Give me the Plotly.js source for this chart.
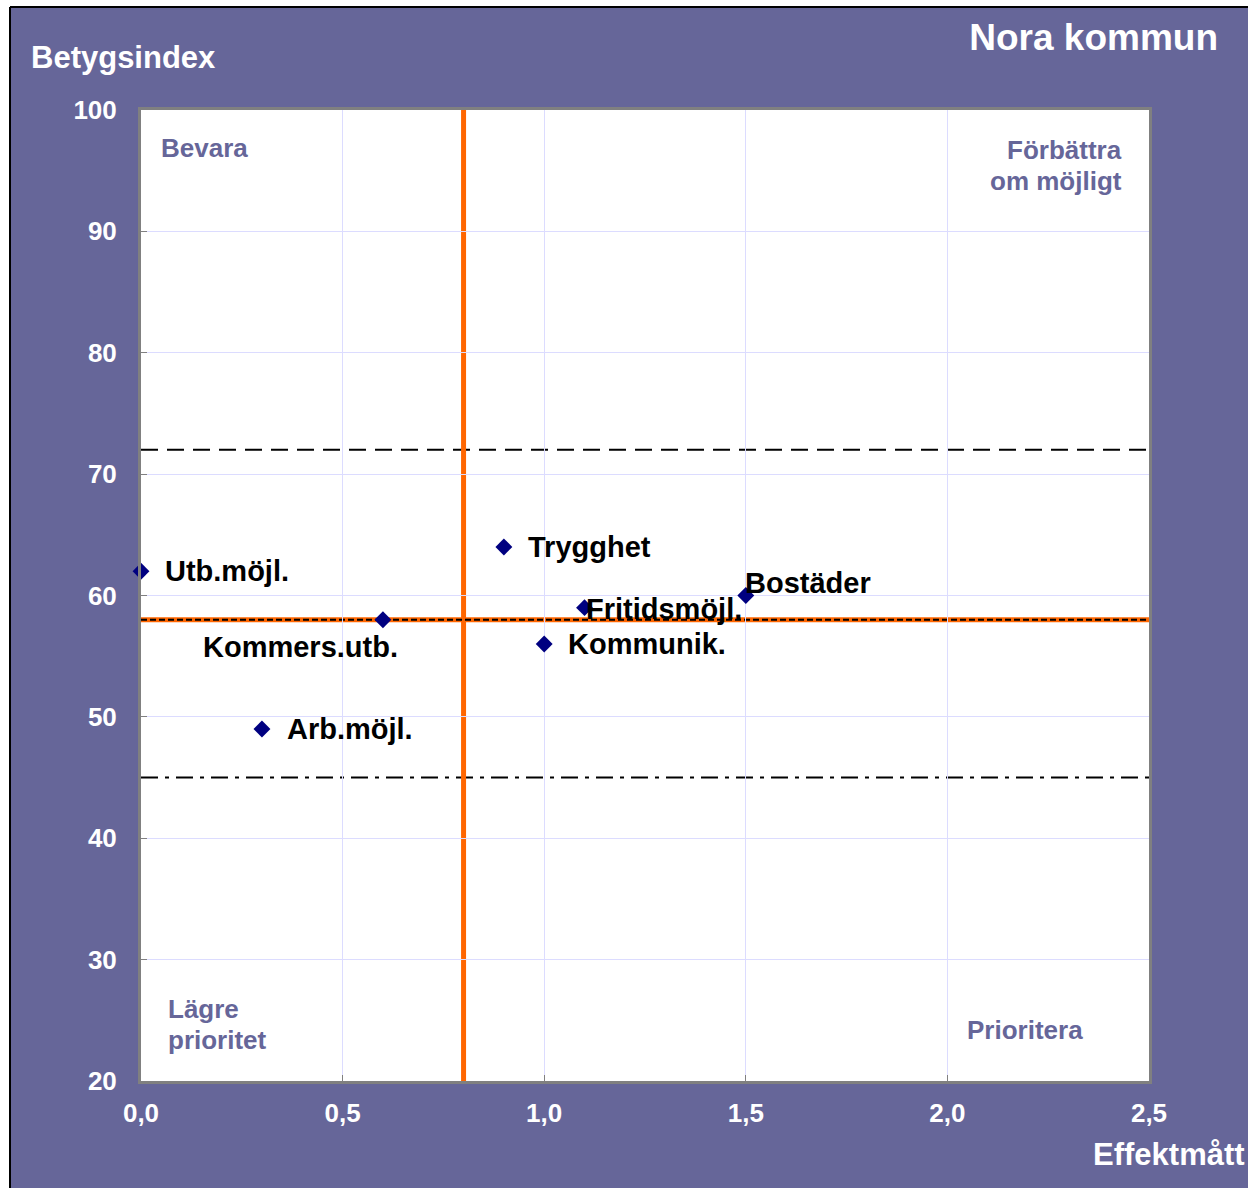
<!DOCTYPE html>
<html>
<head>
<meta charset="utf-8">
<script src="https://cdn.plot.ly/plotly-3.0.1.min.js"></script>
<style>html,body{margin:0;padding:0;background:#fff;}#chart{width:1248px;height:1188px;}</style>
</head>
<body>
<div id="chart"></div>
<script>
// ---- data ----
const categories = ["Utb.möjl.", "Kommers.utb.", "Arb.möjl.", "Trygghet", "Fritidsmöjl.", "Kommunik.", "Bostäder"];
const effektmatt = [0.0, 0.6, 0.3, 0.9, 1.1, 1.0, 1.5];
const betygsindex = [62, 58, 49, 64, 59, 56, 60];
const meanEffekt = 0.8;
const meanBetyg = 58;
const upperLimit = 72;
const lowerLimit = 45;
const xTicks = [0, 0.5, 1.0, 1.5, 2.0, 2.5];
const yTicks = [20, 30, 40, 50, 60, 70, 80, 90, 100];
const quadrantLabels = ["Bevara", "Förbättra<br>om möjligt", "Lägre<br>prioritet", "Prioritera"];

// ---- styling / layout ----
const W = 1248, H = 1188;
const M = {l: 141, r: 99, t: 110, b: 107};
const PW = W - M.l - M.r, PH = H - M.t - M.b;
const px = v => (v - M.l) / PW;          // pixel x -> paper x
const py = v => (H - M.b - v) / PH;      // pixel y -> paper y
const BG = '#666699';
const FONT = 'Liberation Sans, Arial, sans-serif';

// label offsets (pixels) per category
const labelStyle = [
  {xanchor: 'left', xshift: 22, yshift: 0},
  {xanchor: 'right', xshift: 17, yshift: -27},
  {xanchor: 'left', xshift: 23, yshift: 0},
  {xanchor: 'left', xshift: 22, yshift: 0},
  {xanchor: 'left', xshift: -1, yshift: -1},
  {xanchor: 'left', xshift: 22, yshift: 0},
  {xanchor: 'left', xshift: -3, yshift: 13}
];

const trace = {
  type: 'scatter', mode: 'markers',
  x: effektmatt, y: betygsindex,
  marker: {symbol: 'diamond', size: 13, color: '#000080'},
  cliponaxis: false, hoverinfo: 'skip'
};

const annotations = categories.map((c, i) => ({
  x: effektmatt[i], y: betygsindex[i], xref: 'x', yref: 'y',
  text: c, showarrow: false, xanchor: labelStyle[i].xanchor, yanchor: 'middle',
  xshift: labelStyle[i].xshift, yshift: labelStyle[i].yshift,
  font: {family: FONT, size: 29, color: '#000000', weight: 'bold'}
}));

const qFont = {family: FONT, size: 26, color: BG, weight: 'bold'};
const qPos = [
  {x: 159, y: 148, xanchor: 'left'},
  {x: 1124, y: 165.5, xanchor: 'right'},
  {x: 166, y: 1024.5, xanchor: 'left'},
  {x: 965, y: 1030, xanchor: 'left'}
];
const qLineGap = 31;
quadrantLabels.forEach((t, i) => {
  const lines = t.split('<br>');
  lines.forEach((ln, j) => {
    const yc = qPos[i].y + (j - (lines.length - 1) / 2) * qLineGap;
    annotations.push({
      xref: 'paper', yref: 'paper', x: px(qPos[i].x), y: py(yc),
      xanchor: qPos[i].xanchor, yanchor: 'middle',
      text: ln, showarrow: false, font: qFont
    });
  });
});

annotations.push({
  xref: 'paper', yref: 'paper', x: px(29), y: py(57), xanchor: 'left', yanchor: 'middle',
  text: 'Betygsindex', showarrow: false,
  font: {family: FONT, size: 31, color: '#ffffff', weight: 'bold'}
});
annotations.push({
  xref: 'paper', yref: 'paper', x: px(1247), y: py(1154), xanchor: 'right', yanchor: 'middle',
  text: 'Effektmått', showarrow: false,
  font: {family: FONT, size: 31, color: '#ffffff', weight: 'bold'}
});

const xr = [xTicks[0], xTicks[xTicks.length - 1]];
const shapes = [
  // frame white margin + black outline
  {type: 'rect', xref: 'paper', yref: 'paper', x0: px(-5), x1: px(10), y0: py(H + 5), y1: py(-5), fillcolor: '#ffffff', line: {width: 0}},
  {type: 'rect', xref: 'paper', yref: 'paper', x0: px(-5), x1: px(W + 5), y0: py(7), y1: py(-5), fillcolor: '#ffffff', line: {width: 0}},
  {type: 'line', xref: 'paper', yref: 'paper', x0: px(10), x1: px(10), y0: py(7), y1: py(H + 2), line: {color: '#000000', width: 2}},
  {type: 'line', xref: 'paper', yref: 'paper', x0: px(10), x1: px(W + 2), y0: py(7), y1: py(7), line: {color: '#000000', width: 2}},
  // reference lines
  {type: 'line', layer: 'below', xref: 'x', yref: 'y', x0: xr[0], x1: xr[1], y0: upperLimit, y1: upperLimit, line: {color: '#000000', width: 2, dash: '17px,9px'}},
  {type: 'line', layer: 'below', xref: 'x', yref: 'y', x0: xr[0], x1: xr[1], y0: lowerLimit, y1: lowerLimit, line: {color: '#000000', width: 2, dash: '17px,7px,4px,7px'}},
  {type: 'line', layer: 'below', xref: 'x', yref: 'y', x0: meanEffekt, x1: meanEffekt, y0: yTicks[0], y1: yTicks[yTicks.length - 1], line: {color: '#FF6600', width: 5}},
  {type: 'line', layer: 'below', xref: 'x', yref: 'y', x0: xr[0], x1: xr[1], y0: meanBetyg, y1: meanBetyg, line: {color: '#FF6600', width: 5}},
  {type: 'line', layer: 'below', xref: 'x', yref: 'y', x0: xr[0], x1: xr[1], y0: meanBetyg, y1: meanBetyg, line: {color: '#000000', width: 2, dash: '6px,3px'}}
];

const layout = {
  width: W, height: H,
  margin: M,
  paper_bgcolor: BG, plot_bgcolor: '#ffffff',
  separators: ', ',
  showlegend: false,
  title: {
    text: 'Nora kommun', xref: 'container', yref: 'container',
    x: 1218 / W, xanchor: 'right', y: 1 - 37 / H, yanchor: 'middle',
    font: {family: FONT, size: 37, color: '#ffffff', weight: 'bold'}
  },
  xaxis: {
    range: xr, tickvals: xTicks, tickformat: '.1f',
    showgrid: true, gridcolor: '#dcdcff', gridwidth: 1, zeroline: false,
    showline: true, linecolor: '#808080', linewidth: 3, mirror: true,
    ticks: 'inside', ticklen: 6, tickcolor: '#808080', tickwidth: 1,
    ticklabelstandoff: 7,
    tickfont: {family: FONT, size: 26, color: '#ffffff', weight: 'bold'}
  },
  yaxis: {
    range: [yTicks[0], yTicks[yTicks.length - 1]], tickvals: yTicks, tickformat: 'd',
    showgrid: true, gridcolor: '#dcdcff', gridwidth: 1, zeroline: false,
    showline: true, linecolor: '#808080', linewidth: 3, mirror: true,
    ticks: 'inside', ticklen: 6, tickcolor: '#808080', tickwidth: 1,
    ticklabelstandoff: 16,
    tickfont: {family: FONT, size: 26, color: '#ffffff', weight: 'bold'}
  },
  shapes: shapes,
  annotations: annotations
};

Plotly.newPlot('chart', [trace], layout, {displayModeBar: false, staticPlot: true});
</script>
</body>
</html>
